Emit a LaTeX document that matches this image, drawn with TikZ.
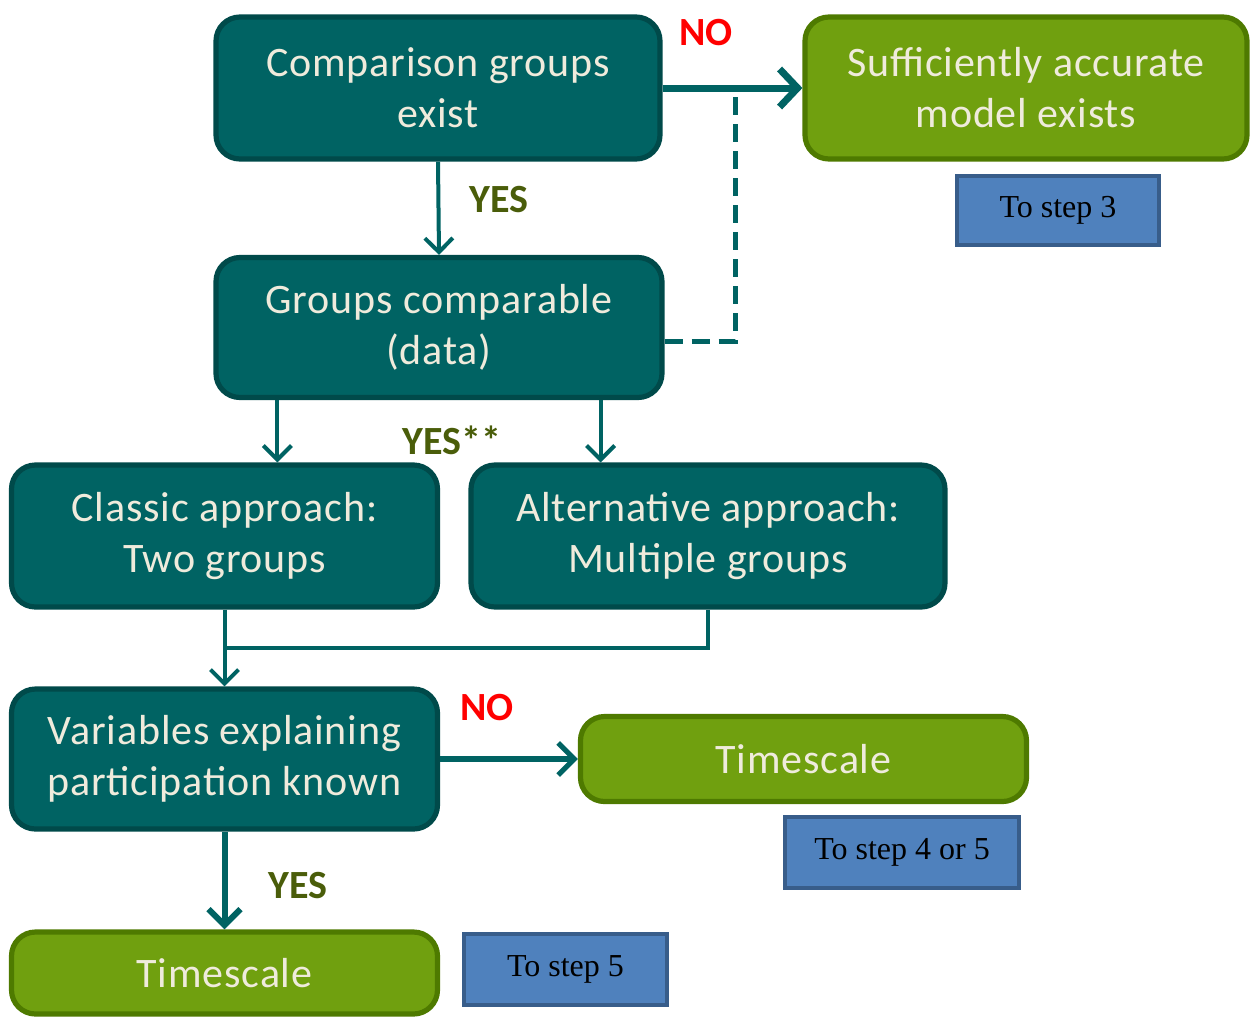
\documentclass[tikz,border=0pt]{standalone}
\usepackage{fontspec}
\setmainfont{Carlito}[LetterSpace=2]
\newfontfamily\labelfont{Carlito}
\newfontfamily\stepfont{Liberation Serif}
\usetikzlibrary{arrows.meta,calc}
\definecolor{tealfill}{HTML}{006363}
\definecolor{tealedge}{HTML}{004A4A}
\definecolor{greenfill}{HTML}{70A00F}
\definecolor{greenedge}{HTML}{4E7A00}
\definecolor{bluefill}{HTML}{4F81BD}
\definecolor{blueedge}{HTML}{385D8A}
\definecolor{cream}{HTML}{EFEBDC}
\definecolor{yesgreen}{HTML}{4A5D0A}
\tikzset{
  tealbox/.style={draw=tealedge, fill=tealfill, line width=2.6pt, rounded corners=12pt,
    text=cream, align=center, inner sep=0pt,
    font=\fontsize{21}{25.5}\selectfont},
  greenbox/.style={draw=greenedge, fill=greenfill, line width=2.6pt, rounded corners=12pt,
    text=cream, align=center, inner sep=0pt,
    font=\fontsize{21}{25.5}\selectfont},
  stepbox/.style={draw=blueedge, fill=bluefill, line width=2.2pt, text=black,
    inner sep=0pt, font=\stepfont\fontsize{16}{19}\selectfont},
  conn/.style={draw=tealfill, line width=2pt},
  arr/.style={conn, -{Straight Barb[length=7pt,width=14pt]}},
  bigarr/.style={conn, line width=3.5pt, -{Straight Barb[length=9pt,width=19pt]}},
  dashline/.style={conn, line width=2.5pt, dash pattern=on 9pt off 4.5pt},
  yeslabel/.style={text=yesgreen, font=\labelfont\bfseries\fontsize{20}{24}\selectfont},
  nolabel/.style={text=red, font=\labelfont\bfseries\fontsize{20}{24}\selectfont}
}
\begin{document}
\begin{tikzpicture}[x=0.5pt,y=-0.5pt]
\path[use as bounding box] (0,0) rectangle (1253,1019);

% decision and outcome boxes
\node[tealbox, minimum width=222pt, minimum height=71pt] (A) at (438,88)
  {Comparison groups\\exist};
\node[greenbox, minimum width=221pt, minimum height=71pt] (B) at (1026,88)
  {Sufficiently accurate\\model exists};
\node[stepbox, minimum width=101pt, minimum height=34.5pt] (S3) at (1058,210.5)
  {To step 3};
\node[tealbox, minimum width=223pt, minimum height=70pt] (C) at (439,327.5)
  {Groups comparable\\(data)};
\node[tealbox, minimum width=213pt, minimum height=71pt] (D) at (224.5,536)
  {Classic approach:\\Two groups};
\node[tealbox, minimum width=237pt, minimum height=71pt] (E) at (708,536)
  {Alternative approach:\\Multiple groups};
\node[tealbox, minimum width=213pt, minimum height=70pt] (F) at (224.5,759)
  {Variables explaining\\participation known};
\node[greenbox, minimum width=223pt, minimum height=42.5pt] (G) at (803.5,759)
  {Timescale};
\node[stepbox, minimum width=117pt, minimum height=35.5pt] (S45) at (902,852.5)
  {To step 4 or 5};
\node[greenbox, minimum width=213pt, minimum height=41pt] (H) at (224.5,973)
  {Timescale};
\node[stepbox, minimum width=101.5pt, minimum height=35.5pt] (S5) at (565.5,969.5)
  {To step 5};

% connectors
\draw[bigarr] (A.east) -- (B.west);
\coordinate (dtop) at (735,95);
\draw[dashline] ([yshift=-7pt]C.east) -| (dtop);
\draw[arr] (A.south) -- (C.north);
\draw[arr] ([xshift=32pt]C.south west) -- ([xshift=32pt]C.south west |- D.north);
\draw[arr] ([xshift=-32pt]C.south east) -- ([xshift=-32pt]C.south east |- E.north);
\coordinate (join) at ($(D.south)!0.5!(F.north)$);
\draw[conn] (E.south) |- (join);
\draw[arr] (D.south) -- (F.north);
\draw[conn, line width=2.6pt, -{Straight Barb[length=8pt,width=16pt]}] (F.east) -- (G.west);
\draw[conn, line width=3pt, -{Straight Barb[length=8pt,width=16pt]}] (F.south) -- (H.north);

% branch labels
\node[nolabel] (noA) at (706,33) {NO};
\node[yeslabel] (yesA) at (499,200) {YES};
\node[yeslabel] (yesC) at (452,440) {YES**};
\node[nolabel] (noF) at (487,708) {NO};
\node[yeslabel] (yesF) at (298,886) {YES};
\end{tikzpicture}
\end{document}
